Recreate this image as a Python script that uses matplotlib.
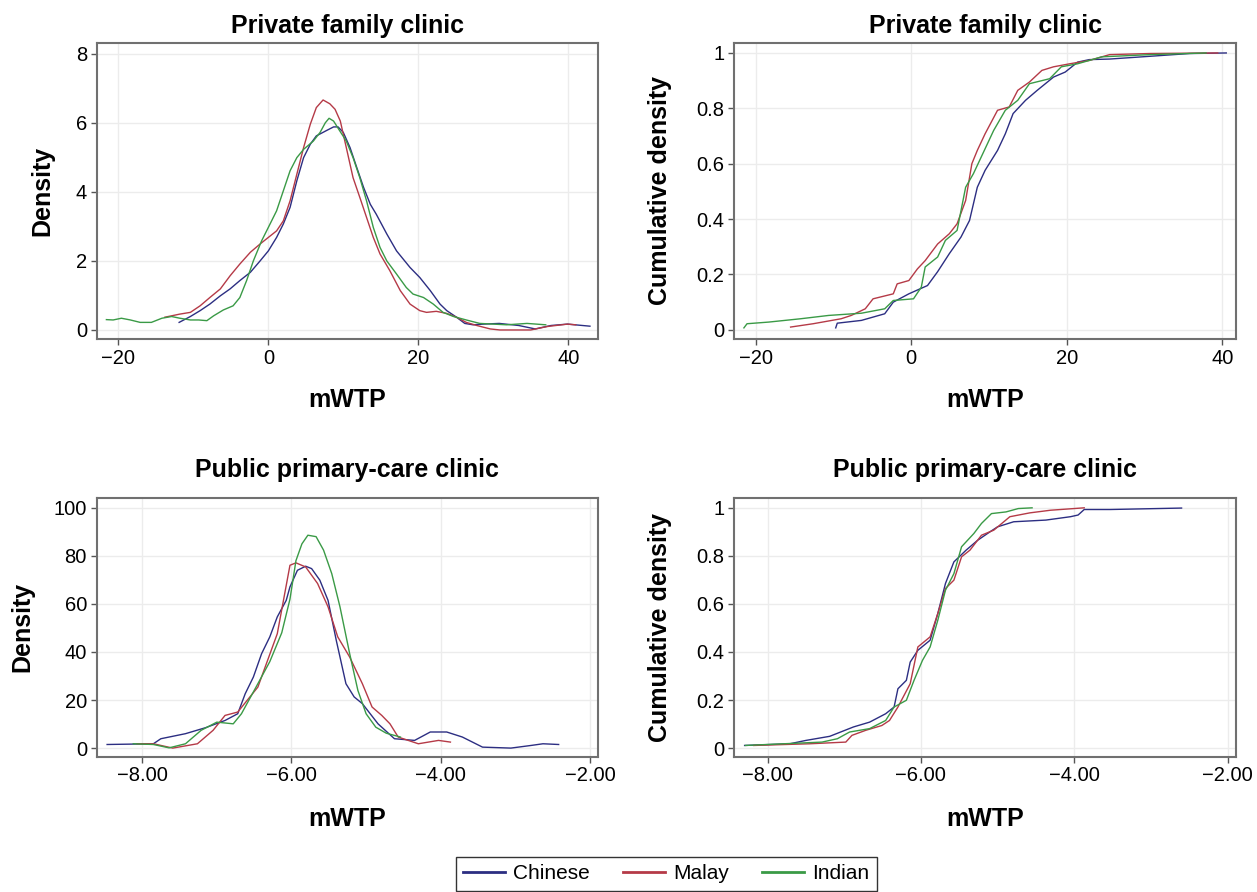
import matplotlib
matplotlib.use('Agg')
import matplotlib.pyplot as plt
from matplotlib.ticker import FuncFormatter

plt.rcParams['font.family'] = ['Liberation Sans', 'DejaVu Sans']

groups = ['Chinese', 'Malay', 'Indian']
colours = ['#2c2e82', '#b53a47', '#3a9a46']

# --- Private family clinic, density (kernel curves)
pfc_dens_x = {
    'Chinese': [-11.9, -10.4, -9.1, -7.8, -6.4, -5.1, -3.8, -2.4, -1.1, 0, 1.1, 2.0, 2.9, 3.8,
                4.7, 5.6, 6.4, 7.8, 8.7, 9.3, 10.0, 10.9, 11.8, 12.7, 13.6, 14.4, 15.8, 17.1,
                18.9, 20.2, 21.6, 22.9, 23.8, 25.1, 26.2, 27.3, 28.7, 30.8, 33.4, 35.6, 37.7,
                39.9, 42.9],
    'Malay': [-13.8, -11.8, -10.4, -9.1, -7.8, -6.4, -5.1, -3.8, -2.4, -1.1, 0, 1.1, 2.0, 2.9,
              3.8, 4.7, 5.6, 6.4, 7.3, 8.2, 8.9, 9.6, 10.4, 11.3, 12.2, 13.1, 14.0, 14.9, 16.2,
              17.6, 18.9, 20.2, 21.1, 22.4, 23.8, 25.1, 26.4, 27.8, 29.6, 30.9, 35.0, 37.2,
              39.9, 41.0],
    'Indian': [-21.6, -20.7, -19.6, -18.4, -17.1, -15.6, -14.2, -12.9, -11.8, -10.4, -9.3, -8.2,
               -7.3, -6.0, -4.7, -3.8, -2.9, -2.0, -0.9, 0, 1.1, 2.0, 2.9, 3.8, 4.7, 6.0, 6.9,
               7.6, 8.1, 8.7, 9.6, 10.4, 11.3, 12.2, 13.1, 14.0, 14.9, 15.8, 17.1, 18.4, 19.3,
               20.7, 22.0, 23.3, 24.7, 26.4, 28.2, 31.8, 34.5, 37.0],
}
pfc_dens_y = {
    'Chinese': [0.22, 0.39, 0.56, 0.75, 0.99, 1.19, 1.43, 1.67, 2.0, 2.29, 2.68, 3.07, 3.55,
                4.32, 4.99, 5.38, 5.62, 5.78, 5.88, 5.88, 5.72, 5.28, 4.70, 4.13, 3.64, 3.35,
                2.78, 2.29, 1.81, 1.52, 1.14, 0.75, 0.56, 0.37, 0.19, 0.15, 0.17, 0.19, 0.13,
                0.03, 0.13, 0.17, 0.11],
    'Malay': [0.37, 0.46, 0.51, 0.70, 0.94, 1.19, 1.57, 1.91, 2.25, 2.49, 2.68, 2.87, 3.16, 3.74,
              4.51, 5.28, 5.96, 6.44, 6.66, 6.55, 6.39, 6.05, 5.28, 4.41, 3.84, 3.26, 2.68, 2.2,
              1.72, 1.14, 0.75, 0.56, 0.51, 0.54, 0.48, 0.37, 0.22, 0.13, 0.03, 0.0, 0.0, 0.1,
              0.17, 0.15],
    'Indian': [0.30, 0.29, 0.34, 0.29, 0.22, 0.22, 0.34, 0.39, 0.34, 0.29, 0.29, 0.27, 0.41,
               0.58, 0.70, 0.94, 1.43, 2.0, 2.58, 2.97, 3.45, 4.03, 4.61, 4.99, 5.23, 5.47,
               5.72, 6.0, 6.13, 6.05, 5.74, 5.47, 4.99, 4.41, 3.74, 2.97, 2.39, 2.0, 1.62, 1.23,
               1.04, 0.94, 0.75, 0.51, 0.39, 0.29, 0.19, 0.15, 0.19, 0.15],
}

# --- Private family clinic, cumulative
pfc_cum_x = {
    'Chinese': [-9.7, -9.5, -6.4, -3.4, -2.3, -0.3, 2.1, 3.4, 4.9, 6.4, 7.5, 8.5, 9.5, 11.1, 12.1,
                13.1, 14.7, 16.2, 18.3, 19.8, 21.4, 22.9, 25.5, 30.7, 35.8, 40.5],
    'Malay': [-15.5, -12.6, -9.0, -7.7, -5.9, -4.9, -2.3, -1.8, -0.3, 0.8, 1.8, 3.4, 4.9, 5.9,
              7.0, 7.8, 8.5, 9.5, 11.1, 12.6, 13.7, 15.2, 16.8, 18.3, 20.4, 22.9, 25.5, 30.7,
              39.4],
    'Indian': [-21.5, -21.1, -18.3, -14.2, -10.6, -6.4, -3.4, -2.3, 0.3, 1.3, 1.8, 3.4, 4.4, 5.9,
               7.0, 8.0, 9.0, 10.6, 12.1, 13.7, 15.2, 17.8, 19.3, 21.4, 24.5, 30.7, 37.9],
}
pfc_cum_y = {
    'Chinese': [0.007, 0.024, 0.034, 0.058, 0.1, 0.13, 0.16, 0.21, 0.275, 0.335, 0.395, 0.515,
                0.576, 0.648, 0.708, 0.781, 0.829, 0.865, 0.913, 0.931, 0.967, 0.976, 0.978,
                0.988, 0.998, 1.0],
    'Malay': [0.01, 0.022, 0.04, 0.052, 0.076, 0.112, 0.13, 0.166, 0.178, 0.22, 0.25, 0.31,
              0.347, 0.383, 0.467, 0.6, 0.648, 0.708, 0.793, 0.805, 0.865, 0.895, 0.937, 0.95,
              0.961, 0.973, 0.994, 0.998, 1.0],
    'Indian': [0.007, 0.022, 0.028, 0.04, 0.052, 0.06, 0.076, 0.106, 0.112, 0.154, 0.227, 0.263,
               0.323, 0.359, 0.515, 0.564, 0.624, 0.72, 0.793, 0.829, 0.889, 0.907, 0.95, 0.961,
               0.986, 0.994, 1.0],
}

# --- Public primary-care clinic, density
ppc_dens_x = {
    'Chinese': [-8.47, -7.85, -7.75, -7.42, -7.15, -6.89, -6.72, -6.62, -6.51, -6.40, -6.29,
                -6.19, -6.07, -6.02, -5.92, -5.81, -5.73, -5.62, -5.51, -5.40, -5.27, -5.16,
                -5.05, -4.84, -4.62, -4.35, -4.14, -3.92, -3.71, -3.44, -3.06, -2.79, -2.63,
                -2.42],
    'Malay': [-8.07, -7.85, -7.59, -7.26, -7.05, -6.89, -6.72, -6.45, -6.19, -6.02, -5.94, -5.81,
              -5.65, -5.51, -5.38, -5.22, -5.05, -4.92, -4.79, -4.68, -4.57, -4.30, -4.03,
              -3.87],
    'Indian': [-8.12, -7.85, -7.64, -7.42, -7.21, -7.0, -6.78, -6.67, -6.45, -6.29, -6.13, -6.02,
               -5.94, -5.86, -5.78, -5.67, -5.57, -5.46, -5.35, -5.22, -5.11, -5.0, -4.87, -4.73,
               -4.54],
}
ppc_dens_y = {
    'Chinese': [1.5, 1.8, 3.9, 6, 8.5, 11.5, 14.3, 22.6, 29.6, 39.3, 46.3, 54.6, 61.5, 67.1, 74,
                75.7, 74.7, 69.9, 61.5, 44.9, 26.8, 21.3, 18.5, 10.1, 3.9, 3.2, 6.7, 6.7, 4.6,
                0.4, 0, 1.1, 1.8, 1.5],
    'Malay': [1.8, 1.8, 0, 1.8, 7.4, 13.6, 15, 25.4, 47.6, 76.1, 77.1, 75.4, 68.5, 58.8, 46.3,
              37.9, 26.8, 17.1, 13.6, 10.1, 4.6, 1.8, 3.2, 2.5],
    'Indian': [1.8, 1.5, 0.1, 1.8, 7.4, 10.8, 10.1, 14.3, 26.8, 36, 48, 62, 78, 85, 88.6, 88,
               82.4, 72.6, 58.8, 39.3, 24, 14.3, 8.7, 6.2, 4.6],
}

# --- Public primary-care clinic, cumulative
ppc_cum_x = {
    'Chinese': [-8.30, -7.71, -7.50, -7.19, -6.88, -6.67, -6.46, -6.35, -6.30, -6.19, -6.14,
                -6.04, -5.88, -5.78, -5.68, -5.57, -5.41, -5.26, -5.1, -5.0, -4.79, -4.37,
                -4.05, -3.95, -3.87, -3.53, -2.60],
    'Malay': [-8.18, -7.45, -6.98, -6.90, -6.72, -6.51, -6.41, -6.30, -6.14, -6.04, -5.88, -5.78,
              -5.68, -5.57, -5.47, -5.36, -5.21, -5.05, -4.84, -4.58, -4.31, -3.87],
    'Indian': [-8.29, -7.29, -7.09, -6.93, -6.67, -6.46, -6.35, -6.19, -6.09, -5.98, -5.88, -5.78,
               -5.68, -5.57, -5.47, -5.31, -5.21, -5.08, -4.89, -4.73, -4.55],
}
ppc_cum_y = {
    'Chinese': [0.011, 0.018, 0.032, 0.049, 0.088, 0.108, 0.143, 0.171, 0.247, 0.282, 0.358,
                0.407, 0.449, 0.56, 0.685, 0.775, 0.824, 0.865, 0.9, 0.921, 0.942, 0.949, 0.963,
                0.97, 0.993, 0.993, 0.999],
    'Malay': [0.011, 0.018, 0.025, 0.053, 0.074, 0.094, 0.115, 0.171, 0.268, 0.421, 0.463, 0.56,
              0.664, 0.699, 0.796, 0.824, 0.886, 0.907, 0.963, 0.979, 0.99, 1.0],
    'Indian': [0.011, 0.025, 0.039, 0.067, 0.081, 0.115, 0.171, 0.199, 0.282, 0.365, 0.421, 0.532,
               0.657, 0.726, 0.838, 0.893, 0.935, 0.976, 0.983, 0.997, 1.0],
}

fig = plt.figure(figsize=(12.57, 8.92), dpi=100)

ax1 = fig.add_axes([0.0769, 0.620, 0.3990, 0.3318])
ax2 = fig.add_axes([0.5842, 0.620, 0.3994, 0.3318])
ax3 = fig.add_axes([0.0769, 0.1519, 0.3990, 0.2901])
ax4 = fig.add_axes([0.5842, 0.1519, 0.3994, 0.2901])

panels = [
    (ax1, pfc_dens_x, pfc_dens_y, 'Private family clinic', 'Density', 7.2),
    (ax2, pfc_cum_x, pfc_cum_y, 'Private family clinic', 'Cumulative density', 7.2),
    (ax3, ppc_dens_x, ppc_dens_y, 'Public primary-care clinic', 'Density', 14.7),
    (ax4, ppc_cum_x, ppc_cum_y, 'Public primary-care clinic', 'Cumulative density', 14.7),
]

for ax, xs, ys, titre, ylab, pad in panels:
    for g, c in zip(groups, colours):
        ax.plot(xs[g], ys[g], color=c, lw=1.0, label=g)
    ax.grid(True, color='#ececec', lw=1.0)
    ax.set_axisbelow(True)
    for s in ax.spines.values():
        s.set_color('#707070')
        s.set_linewidth(1.5)
    ax.tick_params(direction='out', length=4, width=1, color='#555555',
                   labelsize=14.5, pad=3)
    ax.set_title(titre, fontsize=18, fontweight='bold', pad=pad)
    ax.set_ylabel(ylab, fontsize=18, fontweight='bold')
    ax.set_xlabel('mWTP', fontsize=18, fontweight='bold')

# limites et graduations
ax1.set_xlim(-22.9, 44.0)
ax1.set_ylim(-0.26, 8.31)
ax1.set_xticks([-20, 0, 20, 40])
ax1.set_yticks([0, 2, 4, 6, 8])

ax2.set_xlim(-22.73, 41.8)
ax2.set_ylim(-0.033, 1.036)
ax2.set_xticks([-20, 0, 20, 40])
ax2.set_yticks([0, 0.2, 0.4, 0.6, 0.8, 1])
ax2.yaxis.set_major_formatter(FuncFormatter(lambda v, p: '%g' % v))

ax3.set_xlim(-8.61, -1.89)
ax3.set_ylim(-3.5, 104.2)
ax3.set_xticks([-8, -6, -4, -2])
ax3.set_yticks([0, 20, 40, 60, 80, 100])

ax4.set_xlim(-8.434, -1.885)
ax4.set_ylim(-0.035, 1.042)
ax4.set_xticks([-8, -6, -4, -2])
ax4.set_yticks([0, 0.2, 0.4, 0.6, 0.8, 1])
ax4.yaxis.set_major_formatter(FuncFormatter(lambda v, p: '%g' % v))

fmt2 = FuncFormatter(lambda v, p: ('%.2f' % v).replace('-', '\u2212'))
ax3.xaxis.set_major_formatter(fmt2)
ax4.xaxis.set_major_formatter(fmt2)

# position des titres d'axes
ax1.yaxis.set_label_coords(-0.085, 0.5)
ax2.yaxis.set_label_coords(-0.124, 0.5)
ax3.yaxis.set_label_coords(-0.125, 0.5)
ax4.yaxis.set_label_coords(-0.124, 0.5)
ax1.xaxis.set_label_coords(0.5, -0.166)
ax2.xaxis.set_label_coords(0.5, -0.166)
ax3.xaxis.set_label_coords(0.5, -0.195)
ax4.xaxis.set_label_coords(0.5, -0.195)

handles, labels = ax1.get_legend_handles_labels()
leg = fig.legend(handles, labels, loc='center', bbox_to_anchor=(0.530, 0.0205), ncol=3,
                 fontsize=15, frameon=True, fancybox=False, edgecolor='black',
                 handlelength=2.0, handletextpad=0.4, columnspacing=1.6, borderpad=0.35)
leg.get_frame().set_linewidth(1.0)
for line in leg.get_lines():
    line.set_linewidth(2.0)

fig.savefig('out.png', dpi=100)
